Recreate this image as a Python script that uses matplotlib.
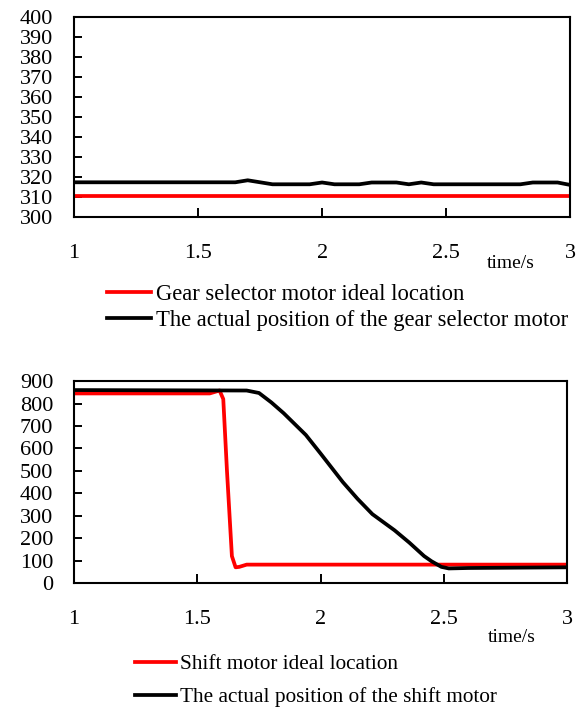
import matplotlib
matplotlib.use("Agg")
import matplotlib.pyplot as plt
import numpy as np

plt.rcParams['font.family'] = ['Liberation Serif', 'DejaVu Serif']

# Top chart: gear selector motor
t_top = [1.0, 1.65, 1.70, 1.75, 1.80, 1.95, 2.00, 2.05, 2.15, 2.20, 2.30, 2.35, 2.40, 2.45, 2.80, 2.85, 2.95, 3.0]
gear_actual = [317.3, 317.3, 318.3, 317.3, 316.3, 316.3, 317.2, 316.3, 316.3, 317.2, 317.2, 316.3, 317.2, 316.3, 316.3, 317.2, 317.2, 316.0]
t_gear_ideal = [1.0, 3.0]
gear_ideal = [310.6, 310.6]

# Bottom chart: shift motor
t_shift_ideal = [1.0, 1.55, 1.59, 1.605, 1.62, 1.64, 1.655, 1.67, 1.70, 3.0]
shift_ideal = [845, 845, 858, 820, 500, 120, 70, 72, 82, 82]
t_shift_actual = [1.0, 1.70, 1.75, 1.80, 1.85, 1.94, 2.00, 2.09, 2.15, 2.21, 2.30, 2.36, 2.42, 2.45, 2.49, 2.52, 2.60, 3.0]
shift_actual = [860, 858, 847, 805, 757, 660, 577, 450, 375, 307, 235, 180, 120, 97, 72, 65, 67, 70]

top_yticks = list(range(300, 401, 10))
bot_yticks = list(range(0, 901, 100))
xticks = [1, 1.5, 2, 2.5, 3]
xtick_labels = ['1', '1.5', '2', '2.5', '3']

fig = plt.figure(figsize=(5.84, 7.11), dpi=100)

def style(ax, yticks):
    for s in ax.spines.values():
        s.set_linewidth(1.5)
    ax.set_xlim(1, 3)
    ax.set_xticks(xticks)
    ax.set_xticklabels(xtick_labels)
    ax.set_yticks(yticks)
    ax.set_ylim(yticks[0], yticks[-1])
    ax.tick_params(axis='x', direction='in', length=6.5, width=1.4, pad=19.5, labelsize=16)
    ax.tick_params(axis='y', direction='in', length=5.5, width=1.4, pad=15, labelsize=16)

ax1 = fig.add_axes([0.127, 0.695, 0.849, 0.281])
ax1.plot(t_gear_ideal, gear_ideal, color='#ff0000', lw=2.7, label='Gear selector motor ideal location')
ax1.plot(t_top, gear_actual, color='black', lw=2.7, label='The actual position of the gear selector motor')
style(ax1, top_yticks)
fig.text(0.875, 0.630, 'time/s', fontsize=14, ha='center', va='center')
fig.legend(*ax1.get_legend_handles_labels(), loc='upper left', bbox_to_anchor=(0.168, 0.614),
           frameon=False, fontsize=16.3, handlelength=1.95, handletextpad=0.2, labelspacing=0.25, borderaxespad=0)

ax2 = fig.add_axes([0.127, 0.180, 0.844, 0.284])
ax2.plot(t_shift_ideal, shift_ideal, color='#ff0000', lw=2.7, label='Shift motor ideal location')
ax2.plot(t_shift_actual, shift_actual, color='black', lw=2.7, label='The actual position of the shift motor')
style(ax2, bot_yticks)
fig.text(0.876, 0.104, 'time/s', fontsize=14, ha='center', va='center')
fig.legend(*ax2.get_legend_handles_labels(), loc='upper left', bbox_to_anchor=(0.217, 0.0915),
           frameon=False, fontsize=15.3, handlelength=1.9, handletextpad=0.2, labelspacing=0.6, borderaxespad=0)

fig.savefig('out.png', dpi=100)
